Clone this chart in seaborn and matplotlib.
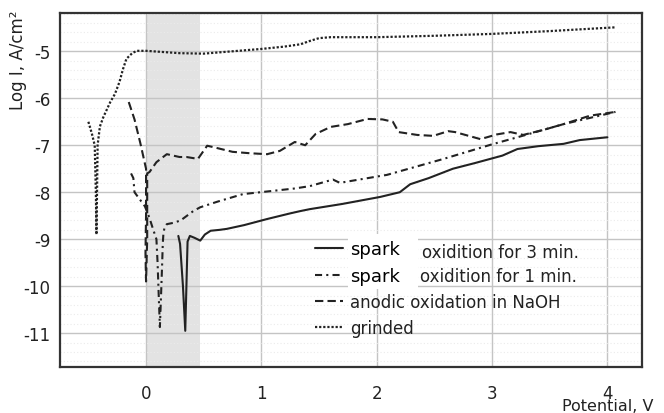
import matplotlib
matplotlib.use("Agg")
import matplotlib.pyplot as plt
from matplotlib.patches import Rectangle
from matplotlib.ticker import MultipleLocator
import seaborn as sns
import pandas as pd

# ---- data ----
grind_x = [-0.50, -0.47, -0.445, -0.435, -0.43, -0.425, -0.42, -0.40, -0.37, -0.31, -0.27, -0.23,
           -0.20, -0.17, -0.12, -0.08, 0.0, 0.29, 0.5, 0.8, 1.0, 1.2, 1.34, 1.42, 1.5, 1.6, 2.0,
           2.5, 3.0, 3.5, 4.07]
grind_y = [-6.5, -6.75, -7.0, -8.0, -8.9, -8.0, -7.0, -6.6, -6.4, -6.08, -5.91, -5.65,
           -5.38, -5.16, -5.04, -4.99, -4.99, -5.04, -5.05, -4.99, -4.95, -4.9, -4.85, -4.78,
           -4.72, -4.70, -4.70, -4.67, -4.63, -4.57, -4.49]

naoh_x = [-0.15, -0.10, -0.05, 0.0, 0.0, -0.005, 0.0, 0.01, 0.01, 0.03, 0.09, 0.18, 0.29, 0.35,
          0.45, 0.53, 0.6, 0.75, 0.9, 1.05, 1.16, 1.29, 1.38, 1.47, 1.6, 1.75, 1.92, 2.05, 2.14,
          2.19, 2.35, 2.49, 2.62, 2.68, 2.9, 3.04, 3.16, 3.27, 3.45, 3.62, 3.85, 4.07]
naoh_y = [-6.08, -6.45, -6.95, -7.5, -8.5, -9.3, -9.9, -9.0, -7.6, -7.57, -7.36, -7.19, -7.25,
          -7.25, -7.29, -7.01, -7.05, -7.14, -7.17, -7.19, -7.12, -6.93, -7.0, -6.76, -6.61,
          -6.55, -6.44, -6.45, -6.5, -6.72, -6.78, -6.8, -6.7, -6.72, -6.87, -6.77, -6.72,
          -6.78, -6.67, -6.55, -6.37, -6.29]

spark1_x = [-0.13, -0.11, -0.10, -0.04, -0.01, 0.03, 0.06, 0.09, 0.10, 0.11, 0.12, 0.13, 0.14,
            0.145, 0.15, 0.16, 0.18, 0.24, 0.3, 0.41, 0.47, 0.62, 0.84, 0.99, 1.29, 1.42, 1.62,
            1.68, 2.09, 2.58, 3.0, 3.22, 3.62, 4.07]
spark1_y = [-7.6, -7.7, -8.0, -8.2, -8.3, -8.55, -8.78, -9.0, -9.5, -10.2, -10.87, -10.2, -9.5,
            -9.1, -8.9, -8.75, -8.68, -8.65, -8.6, -8.4, -8.32, -8.2, -8.04, -8.0, -7.92, -7.87,
            -7.73, -7.8, -7.63, -7.29, -6.98, -6.83, -6.55, -6.29]

spark3_x = [0.28, 0.295, 0.32, 0.34, 0.35, 0.36, 0.38, 0.42, 0.47, 0.51, 0.56, 0.64, 0.7, 0.85,
            1.05, 1.25, 1.34, 1.42, 1.7, 2.03, 2.2, 2.29, 2.45, 2.66, 2.85, 3.09, 3.22, 3.4,
            3.62, 3.76, 4.0]
spark3_y = [-8.93, -9.1, -10.0, -10.95, -10.0, -9.05, -8.93, -8.97, -9.03, -8.9, -8.82, -8.8,
            -8.78, -8.7, -8.57, -8.45, -8.4, -8.36, -8.25, -8.1, -8.0, -7.83, -7.7, -7.5, -7.38,
            -7.22, -7.08, -7.02, -6.97, -6.89, -6.83]

shade_range = [0.0, 0.47]
x_ticks = [0, 1, 2, 3, 4]
y_ticks = [-11, -10, -9, -8, -7, -6, -5]
legend_labels = ["spark", "spark", "anodic oxidation in NaOH", "grinded"]
legend_extra = ["oxidition for 3 min.", "oxidition for 1 min."]

# ---- style ----
sns.set_style("white")
plt.rcParams["font.family"] = ["DejaVu Sans"]
plt.rcParams["axes.unicode_minus"] = False

dark = "#222222"
fig = plt.figure(figsize=(6.64, 4.14), dpi=100)
ax = fig.add_axes([60 / 664, 1 - 368 / 414, 582 / 664, 354 / 414])

ax.axvspan(shade_range[0], shade_range[1], color="#e3e3e3", zorder=0.2, lw=0)

series = [
    (spark3_x, spark3_y, "-", 1.5),
    (spark1_x, spark1_y, (0, (3.4, 2.0, 1.0, 2.0)), 1.5),
    (naoh_x, naoh_y, (0, (4.0, 2.0)), 1.5),
    (grind_x, grind_y, (0, (1.0, 0.85)), 1.6),
]
lines = []
for xs, ys, ls, lw in series:
    df = pd.DataFrame({"x": xs, "y": ys})
    sns.lineplot(data=df, x="x", y="y", sort=False, estimator=None, ax=ax,
                 color=dark, linewidth=lw, linestyle=ls, zorder=3)
    lines.append(ax.get_lines()[-1])

ax.set_xlim(-0.746, 4.30)
ax.set_ylim(-11.72, -4.185)
ax.set_xticks(x_ticks)
ax.set_yticks(y_ticks)
ax.set_xticklabels([str(v) for v in x_ticks])
ax.set_yticklabels([str(v) for v in y_ticks])
ax.yaxis.set_minor_locator(MultipleLocator(0.2))
ax.set_axisbelow(True)
ax.grid(True, which="major", color="#c4c4c4", linewidth=1.0)
ax.grid(True, which="minor", axis="y", color="#ebebeb", linewidth=0.8, linestyle=(0, (1, 2)))
ax.tick_params(axis="both", which="both", length=0, labelsize=12, colors=dark)
ax.tick_params(axis="x", pad=12)
ax.tick_params(axis="y", pad=7)
for s in ax.spines.values():
    s.set_color("#333333")
    s.set_linewidth(1.6)
ax.set_xlabel("")
ax.set_ylabel("")

fig.text(18 / 664, 1 - 10 / 414, "Log I, A/cm²", rotation=90, ha="center", va="top",
         fontsize=12, color=dark)
fig.text(653 / 664, 1 - 411 / 414, "Potential, V", ha="right", va="baseline",
         fontsize=11.5, color=dark)

# white patch behind the "spark" words
ax.add_patch(Rectangle((0.495, 0.22), 0.12, 0.156, transform=ax.transAxes,
                       facecolor="white", edgecolor="none", zorder=1))

leg = ax.legend(lines, legend_labels, loc="upper left", bbox_to_anchor=(0.438, 0.358),
                frameon=False, fontsize=12, handlelength=1.7, handletextpad=0.4,
                labelspacing=0.5, borderpad=0, borderaxespad=0)
for i, t in enumerate(leg.get_texts()):
    if i < 2:
        t.set_fontsize(13)
        t.set_color("black")
    else:
        t.set_color(dark)

ax.text(0.622, 0.324, legend_extra[0], transform=ax.transAxes, fontsize=12,
        color=dark, va="center", ha="left")
ax.text(0.619, 0.258, legend_extra[1], transform=ax.transAxes, fontsize=12,
        color=dark, va="center", ha="left")

fig.savefig("out.png", dpi=100)
